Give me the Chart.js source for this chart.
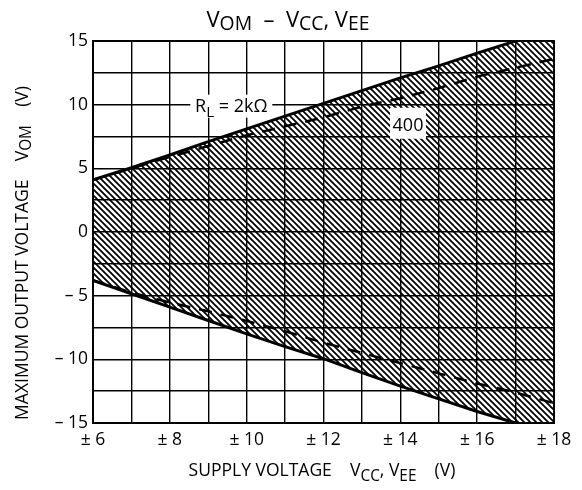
<!DOCTYPE html>
<html><head><meta charset="utf-8">
<script src="https://cdn.jsdelivr.net/npm/chart.js"></script>
<style>html,body{margin:0;padding:0;background:#fff;}canvas{display:block;}</style>
</head><body>
<canvas id="c" width="582" height="490"></canvas>
<script>
// ---- data ----
const supplyVoltage = [6, 7, 8, 9, 10, 11, 12, 13, 14, 15, 16, 17, 18];
const vomUpper2k  = [4.1, 5.05, 6.05, 7.1, 8.1, 9.1, 10.1, 11.1, 12.1, 13.05, 14.05, 15.0, 15.95];
const vomLower2k  = [-3.8, -4.85, -5.9, -6.95, -8.0, -9.0, -9.95, -11.05, -12.1, -13.1, -14.1, -15.0, -15.9];
const vomUpper400 = [4.1, 5.0, 5.9, 6.75, 7.6, 8.3, 9.0, 9.85, 10.5, 11.3, 12.2, 12.9, 13.6];
const vomLower400 = [-3.8, -4.75, -5.53, -6.23, -6.98, -7.8, -8.7, -9.5, -10.3, -11.1, -11.9, -12.6, -13.45];
const xTickValues = [6, 8, 10, 12, 14, 16, 18];
const xTickLabels = ['± 6', '± 8', '± 10', '± 12', '± 14', '± 16', '± 18'];
const yTickValues = [15, 10, 5, 0, -5, -10, -15];
const yTickLabels = ['15', '10', '5', '0', '– 5', '– 10', '– 15'];

const FONT = '"Open Sans", "DejaVu Sans", sans-serif';

function pts(ys) { return supplyVoltage.map((x, i) => ({ x: x, y: ys[i] })); }

function makeHatch() {
  const s = 6;
  const c = document.createElement('canvas');
  c.width = s; c.height = s;
  const g = c.getContext('2d');
  g.strokeStyle = '#000';
  g.lineWidth = 1.8;
  g.beginPath();
  g.moveTo(-1, -1); g.lineTo(s + 1, s + 1);
  g.moveTo(-1, s - 1); g.lineTo(1, s + 1);
  g.moveTo(s - 1, -1); g.lineTo(s + 1, 1);
  g.stroke();
  return document.getElementById('c').getContext('2d').createPattern(c, 'repeat');
}

function richWidth(ctx, parts, size, sub) {
  let w = 0;
  for (const p of parts) {
    ctx.font = (p[1] ? size * sub : size) + 'px ' + FONT;
    w += ctx.measureText(p[0]).width;
  }
  return w;
}
function drawRich(ctx, parts, cx, baseY, size, sub, off) {
  sub = sub || 0.85; off = (off === undefined) ? 0.3 : off;
  const w = richWidth(ctx, parts, size, sub);
  let x = cx - w / 2;
  ctx.textAlign = 'left';
  ctx.textBaseline = 'alphabetic';
  for (const p of parts) {
    const s = p[1] ? size * sub : size;
    ctx.font = s + 'px ' + FONT;
    ctx.fillText(p[0], x, baseY + (p[1] ? size * off : 0));
    x += ctx.measureText(p[0]).width;
  }
  return w;
}

const decor = {
  id: 'decor',
  afterDatasetsDraw(chart) {
    const ctx = chart.ctx;
    const xs = chart.scales.x, ys = chart.scales.y;
    const a = chart.chartArea;
    ctx.save();
    // label R_L = 2kΩ
    {
      const cx = xs.getPixelForValue(9.6), cy = ys.getPixelForValue(10);
      ctx.fillStyle = '#fff';
      ctx.fillRect(cx - 41, cy - 10, 82, 23);
      ctx.fillStyle = '#000';
      drawRich(ctx, [['R', false], ['L', true], [' = 2kΩ', false]], cx, cy + 7, 18, 0.85, 0.3);
    }
    // label 400
    {
      const cx = xs.getPixelForValue(14.2), cy = ys.getPixelForValue(8.5);
      ctx.fillStyle = '#fff';
      ctx.fillRect(cx - 18, cy - 16, 36, 31);
      ctx.fillStyle = '#000';
      drawRich(ctx, [['400', false]], cx, cy + 7, 18);
    }
    // frame
    ctx.strokeStyle = '#000';
    ctx.lineWidth = 2;
    ctx.strokeRect(a.left, a.top, a.right - a.left, a.bottom - a.top);
    // title
    ctx.fillStyle = '#000';
    drawRich(ctx, [['V', false], ['OM', true], ['  –  V', false], ['CC', true], [', V', false], ['EE', true]], 288, 27, 22, 0.88, 0.12);
    // x title
    drawRich(ctx, [['SUPPLY VOLTAGE    V', false], ['CC', true], [', V', false], ['EE', true], ['    (V)', false]], 322, 476, 17.5, 0.88, 0.3);
    // y title
    ctx.save();
    ctx.translate(28, 253);
    ctx.rotate(-Math.PI / 2);
    drawRich(ctx, [['MAXIMUM OUTPUT VOLTAGE    V', false], ['OM', true], ['    (V)', false]], 0, 0, 17.5, 0.88, 0.15);
    ctx.restore();
    ctx.restore();
  }
};

const hatch = makeHatch();

new Chart(document.getElementById('c'), {
  type: 'line',
  data: {
    datasets: [
      { data: pts(vomUpper2k), borderColor: '#000', borderWidth: 3, pointRadius: 0, fill: { target: 1 }, backgroundColor: hatch, clip: 0, tension: 0 },
      { data: pts(vomLower2k), borderColor: '#000', borderWidth: 3, pointRadius: 0, fill: false, clip: 0, tension: 0 },
      { data: pts(vomUpper400), borderColor: '#000', borderWidth: 2.5, borderDash: [13, 9], pointRadius: 0, fill: false, clip: 0, tension: 0 },
      { data: pts(vomLower400), borderColor: '#000', borderWidth: 2.5, borderDash: [13, 9], pointRadius: 0, fill: false, clip: 0, tension: 0 }
    ]
  },
  options: {
    responsive: false,
    animation: false,
    events: [],
    layout: { padding: { left: 0, top: 41, right: 28, bottom: 0 } },
    plugins: { legend: { display: false }, tooltip: { enabled: false }, title: { display: false } },
    scales: {
      x: {
        type: 'linear', min: 6, max: 18,
        afterFit(s) { s.height = 67; },
        ticks: {
          stepSize: 1, autoSkip: false, maxRotation: 0, padding: 7, color: '#000',
          font: { size: 17.5, family: FONT },
          callback(v) { const i = xTickValues.indexOf(v); return i >= 0 ? xTickLabels[i] : ''; }
        },
        grid: { color: '#000', lineWidth: 1.4, drawTicks: false },
        border: { display: true, color: '#000', width: 2 }
      },
      y: {
        type: 'linear', min: -15, max: 15,
        afterFit(s) { s.width = 93; },
        ticks: {
          stepSize: 2.5, autoSkip: false, padding: 5, color: '#000',
          font: { size: 17.5, family: FONT },
          callback(v) { const i = yTickValues.indexOf(v); return i >= 0 ? yTickLabels[i] : ''; }
        },
        grid: { color: '#000', lineWidth: 1.4, drawTicks: false },
        border: { display: true, color: '#000', width: 2 }
      }
    }
  },
  plugins: [decor]
});
</script>
</body></html>
